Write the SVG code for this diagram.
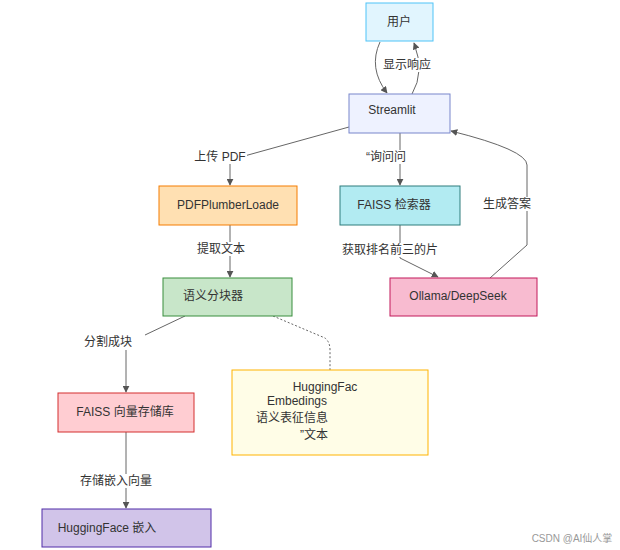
<svg xmlns="http://www.w3.org/2000/svg" width="620" height="550" viewBox="0 0 620 550">
<style>
text{font-family:"Liberation Sans","Noto Sans CJK SC",sans-serif;font-size:12px;fill:#333;text-anchor:middle;dominant-baseline:central}
.e{fill:none;stroke:#666;stroke-width:1}
.lb{fill:#fff}
</style>
<defs><marker id="a" viewBox="0 0 10 10" refX="9" refY="5" markerWidth="7" markerHeight="7" orient="auto"><path d="M0,0L10,5L0,10z" fill="#555"/></marker></defs>
<rect width="620" height="550" fill="#fff"/>
<g id="connectors">
<path class="e" d="M380,42 Q368,68 387,93" marker-end="url(#a)"/>
<path class="e" d="M412,94 Q425,72 414,43" marker-end="url(#a)"/>
<rect class="lb" x="380" y="58" width="54" height="14"/><text x="407" y="65">显示响应</text>
<path class="e" d="M349,127 L230,160 L230,185" marker-end="url(#a)"/>
<rect class="lb" x="193" y="150" width="54" height="14"/><text x="220" y="157">上传 PDF</text>
<path class="e" d="M400,133 L400,185" marker-end="url(#a)"/>
<rect class="lb" x="366" y="150" width="64" height="14"/><text x="386" y="157">“询问问</text>
<path class="e" d="M490,278 L527,245 L527,165 Q527,150 451,131" marker-end="url(#a)"/>
<rect class="lb" x="480" y="197" width="58" height="14"/><text x="507" y="204">生成答案</text>
<path class="e" d="M230,225 L230,277" marker-end="url(#a)"/>
<rect class="lb" x="195" y="242" width="60" height="14"/><text x="221" y="249">提取文本</text>
<path class="e" d="M400,225 L400,258 L438,277" marker-end="url(#a)"/>
<rect class="lb" x="335" y="243" width="112" height="14"/><text x="390" y="250">获取排名前三的片</text>
<path class="e" d="M185,316 L145,335"/>
<path class="e" d="M126,350 L126,392" marker-end="url(#a)"/>
<text x="108" y="342">分割成块</text>
<path class="e" d="M273,316 L325,338 Q330,342 330,350 L330,370" stroke-dasharray="2,2"/>
<path class="e" d="M126,432 L126,508" marker-end="url(#a)"/>
<rect class="lb" x="78" y="474" width="76" height="14"/><text x="116" y="481">存储嵌入向量</text>
</g>
<g id="user"><rect x="366" y="3" width="67" height="38" fill="#e1f5fe" stroke="#4fc3f7"/><text x="399" y="22">用户</text></g>
<g id="streamlit"><rect x="349" y="94" width="101" height="39" fill="#eef2ff" stroke="#7986cb"/><text x="392" y="110">Streamlit</text></g>
<g id="pdf"><rect x="159" y="186" width="138" height="39" fill="#ffe0b2" stroke="#f57c00"/><text x="228" y="205">PDFPlumberLoade</text></g>
<g id="retriever"><rect x="340" y="186" width="120" height="39" fill="#b2ebf2" stroke="#2e7d7d"/><text x="394" y="205">FAISS 检索器</text></g>
<g id="chunker"><rect x="163" y="278" width="129" height="38" fill="#c8e6c9" stroke="#388e3c"/><text x="213" y="296">语义分块器</text></g>
<g id="ollama"><rect x="390" y="278" width="147" height="38" fill="#f8bbd0" stroke="#c2185b"/><text x="458" y="296">Ollama/DeepSeek</text></g>
<g id="store"><rect x="58" y="393" width="136" height="39" fill="#ffcdd2" stroke="#d32f2f"/><text x="125" y="412">FAISS 向量存储库</text></g>
<g id="note"><rect x="232" y="370" width="196" height="85" fill="#fffde7" stroke="#ffb300"/>
<text x="325" y="387">HuggingFac</text><text x="297" y="401">Embedings</text><text x="292" y="418">语义表征信息</text><text x="314" y="435">”文本</text></g>
<g id="hf"><rect x="42" y="509" width="169" height="38" fill="#d1c4e9" stroke="#512da8"/><text x="107" y="528">HuggingFace 嵌入</text></g>
<text x="572" y="538" style="font-size:10px;fill:#999">CSDN @AI仙人掌</text>
</svg>
